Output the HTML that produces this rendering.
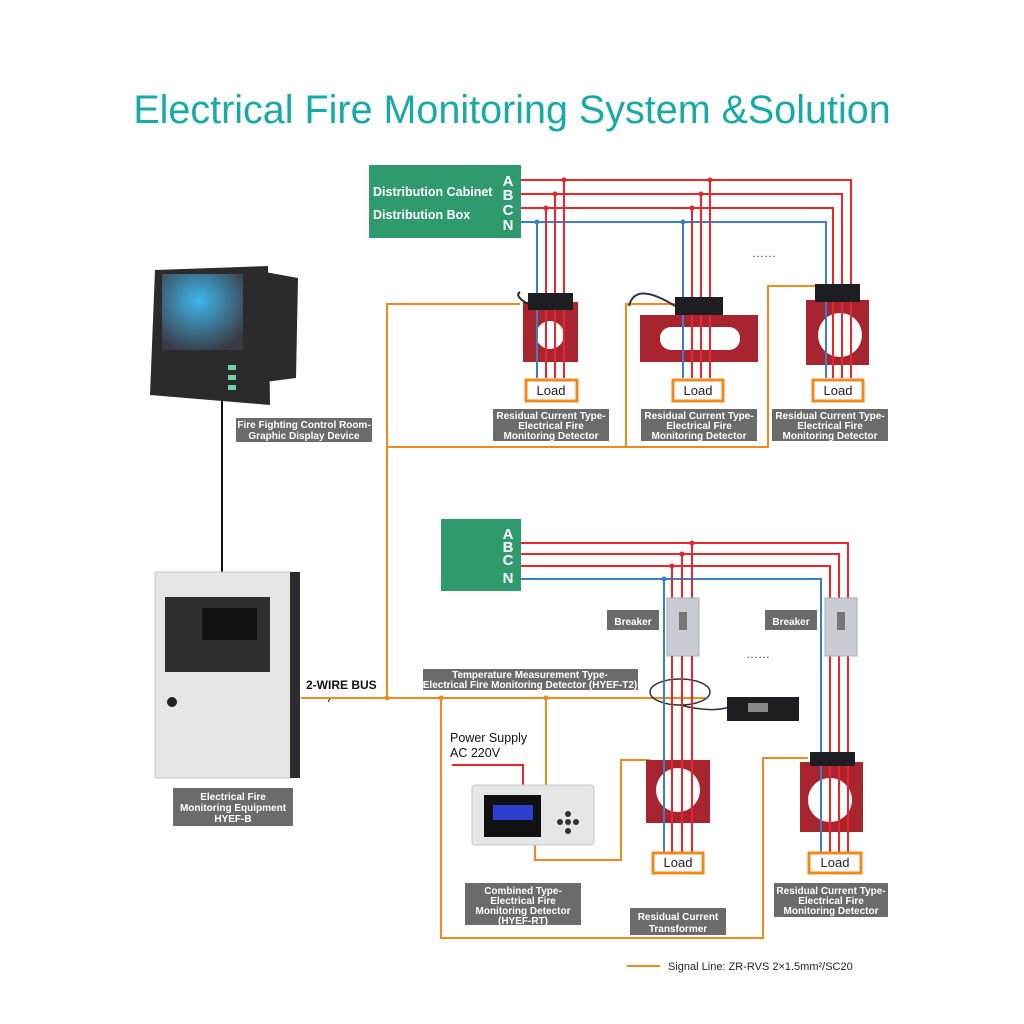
<!DOCTYPE html>
<html><head><meta charset="utf-8"><style>
html,body{margin:0;padding:0;background:#fff}
svg{display:block}
text{font-family:"Liberation Sans",Arial,sans-serif}
.lb{fill:#fff;font-size:10px;font-weight:bold;text-anchor:middle}
.abc{fill:#fff;font-size:15px;font-weight:bold;text-anchor:middle}
</style></head><body>
<svg width="1024" height="1024" viewBox="0 0 1024 1024" xmlns="http://www.w3.org/2000/svg">
<defs><radialGradient id="scr" cx="0.45" cy="0.35" r="0.7"><stop offset="0" stop-color="#3fb6ea"/><stop offset="1" stop-color="#3a3a44"/></radialGradient></defs>
<rect width="1024" height="1024" fill="#fff"/>
<text x="512" y="123" font-size="39.5" fill="#17aaa6" text-anchor="middle">Electrical Fire Monitoring System &amp;Solution</text>

<rect x="369" y="165" width="152" height="73" fill="#2e9a6e"/>
<text x="373" y="196" font-size="12.5" fill="#fff" font-weight="bold">Distribution Cabinet</text>
<text x="373" y="219" font-size="12.5" fill="#fff" font-weight="bold">Distribution Box</text>
<text x="508" y="186" class="abc">A</text>
<text x="508" y="200" class="abc">B</text>
<text x="508" y="215" class="abc">C</text>
<text x="508" y="230" class="abc">N</text>

<g fill="none" stroke-width="2">
<polyline points="521,180 851,180 851,378" stroke="#e8262b"/>
<polyline points="521,194 842,194 842,378" stroke="#e8262b"/>
<polyline points="521,208 833,208 833,378" stroke="#e8262b"/>
<polyline points="521,222 826,222 826,378" stroke="#3b7fc4"/>
<line x1="537" y1="222" x2="537" y2="378" stroke="#3b7fc4"/>
<line x1="546" y1="208" x2="546" y2="378" stroke="#e8262b"/>
<line x1="555" y1="194" x2="555" y2="378" stroke="#e8262b"/>
<line x1="564" y1="180" x2="564" y2="378" stroke="#e8262b"/>
<line x1="683" y1="222" x2="683" y2="378" stroke="#3b7fc4"/>
<line x1="692" y1="208" x2="692" y2="378" stroke="#e8262b"/>
<line x1="701" y1="194" x2="701" y2="378" stroke="#e8262b"/>
<line x1="710" y1="180" x2="710" y2="378" stroke="#e8262b"/>
</g>
<g fill="#e8262b"><circle cx="564" cy="180" r="2.5"/><circle cx="555" cy="194" r="2.5"/><circle cx="546" cy="208" r="2.5"/><circle cx="710" cy="180" r="2.5"/><circle cx="701" cy="194" r="2.5"/><circle cx="692" cy="208" r="2.5"/></g>
<g fill="#3b7fc4"><circle cx="537" cy="222" r="2.5"/><circle cx="683" cy="222" r="2.5"/></g>
<text x="764" y="257" font-size="12" fill="#333" text-anchor="middle">……</text>

<g fill="none" stroke="#f08a1e" stroke-width="2">
<polyline points="520,304 387,304 387,698"/>
<polyline points="387,447 768,447 768,286 815,286"/>
<polyline points="626,447 626,304 675,304"/>
</g>

<rect x="523" y="302" width="55" height="60" fill="#a8242e"/>
<rect x="528" y="293" width="45" height="17" fill="#1e1e22"/>
<circle cx="550" cy="335" r="14" fill="#fff"/>
<path d="M528,304 q-14,-8 -8,-12" stroke="#222" stroke-width="2" fill="none"/>
<rect x="640" y="315" width="118" height="47" fill="#a8242e"/>
<rect x="675" y="297" width="48" height="18" fill="#1e1e22"/>
<rect x="660" y="327" width="80" height="23" rx="11" fill="#fff"/>
<path d="M675,306 q-40,-25 -46,0" stroke="#334" stroke-width="2" fill="none"/>
<rect x="806" y="300" width="63" height="65" fill="#a8242e"/>
<rect x="815" y="284" width="45" height="18" fill="#1e1e22"/>
<circle cx="840" cy="335" r="22" fill="#fff"/>
<g stroke-width="2">
<line x1="537" y1="310" x2="537" y2="378" stroke="#3b7fc4"/><line x1="546" y1="310" x2="546" y2="378" stroke="#e8262b"/><line x1="555" y1="310" x2="555" y2="378" stroke="#e8262b"/><line x1="564" y1="310" x2="564" y2="378" stroke="#e8262b"/>
<line x1="683" y1="315" x2="683" y2="378" stroke="#3b7fc4"/><line x1="692" y1="315" x2="692" y2="378" stroke="#e8262b"/><line x1="701" y1="315" x2="701" y2="378" stroke="#e8262b"/><line x1="710" y1="315" x2="710" y2="378" stroke="#e8262b"/>
<line x1="826" y1="302" x2="826" y2="378" stroke="#3b7fc4"/><line x1="833" y1="302" x2="833" y2="378" stroke="#e8262b"/><line x1="842" y1="302" x2="842" y2="378" stroke="#e8262b"/><line x1="851" y1="302" x2="851" y2="378" stroke="#e8262b"/>
</g>
<g fill="#fff" stroke="#f08a1e" stroke-width="3">
<rect x="526" y="380" width="51" height="21"/><rect x="673" y="380" width="50" height="21"/><rect x="813" y="380" width="50" height="21"/>
</g>
<g font-size="13" fill="#222" text-anchor="middle"><text x="551" y="395">Load</text><text x="698" y="395">Load</text><text x="838" y="395">Load</text></g>
<g fill="#6b6b6b"><rect x="493" y="409" width="116" height="32"/><rect x="641" y="409" width="116" height="32"/><rect x="772" y="409" width="116" height="32"/></g>
<g class="lb"><text x="551" y="419">Residual Current Type-</text><text x="551" y="429">Electrical Fire</text><text x="551" y="439">Monitoring Detector</text>
<text x="699" y="419">Residual Current Type-</text><text x="699" y="429">Electrical Fire</text><text x="699" y="439">Monitoring Detector</text>
<text x="830" y="419">Residual Current Type-</text><text x="830" y="429">Electrical Fire</text><text x="830" y="439">Monitoring Detector</text></g>

<line x1="222" y1="400" x2="222" y2="575" stroke="#111" stroke-width="2"/>
<polygon points="265,272 298,278 296,378 265,382" fill="#2a2a2c"/>
<polygon points="155,270 268,266 270,405 150,395" fill="#2b2b2e"/>
<rect x="162" y="274" width="81" height="76" fill="url(#scr)"/>
<g fill="#6fd3a7"><rect x="228" y="365" width="8" height="5"/><rect x="228" y="375" width="8" height="5"/><rect x="228" y="385" width="8" height="5"/></g>
<rect x="236" y="418" width="136" height="24" fill="#6b6b6b"/>
<g class="lb"><text x="304" y="428">Fire Fighting Control Room-</text><text x="304" y="439">Graphic Display Device</text></g>

<rect x="155" y="572" width="137" height="206" fill="#e6e6e4" stroke="#c8c8c8"/>
<rect x="290" y="572" width="10" height="206" fill="#2b2b2e"/>
<rect x="165" y="597" width="105" height="75" fill="#2e2e30"/>
<rect x="202" y="608" width="55" height="32" fill="#111"/>
<circle cx="172" cy="702" r="5" fill="#222"/>
<rect x="173" y="788" width="120" height="38" fill="#6b6b6b"/>
<g class="lb" font-size="11"><text x="233" y="800">Electrical Fire</text><text x="233" y="811">Monitoring Equipment</text><text x="233" y="822">HYEF-B</text></g>
<text x="306" y="689" font-size="12" fill="#111" font-weight="bold">2-WIRE BUS</text>
<line x1="328" y1="702" x2="331" y2="697" stroke="#111"/>

<rect x="441" y="519" width="80" height="72" fill="#2e9a6e"/>
<text x="508" y="539" class="abc">A</text>
<text x="508" y="552" class="abc">B</text>
<text x="508" y="565" class="abc">C</text>
<text x="508" y="583" class="abc">N</text>
<g fill="none" stroke-width="2">
<polyline points="521,543 848,543 848,852" stroke="#e8262b"/>
<polyline points="521,554 839,554 839,852" stroke="#e8262b"/>
<polyline points="521,566 830,566 830,852" stroke="#e8262b"/>
<polyline points="521,579 821,579 821,852" stroke="#3b7fc4"/>
<line x1="664" y1="579" x2="664" y2="852" stroke="#3b7fc4"/>
<line x1="672" y1="566" x2="672" y2="852" stroke="#e8262b"/>
<line x1="682" y1="554" x2="682" y2="852" stroke="#e8262b"/>
<line x1="692" y1="543" x2="692" y2="852" stroke="#e8262b"/>
</g>
<g fill="#e8262b"><circle cx="692" cy="543" r="2.5"/><circle cx="682" cy="554" r="2.5"/><circle cx="672" cy="566" r="2.5"/></g>
<circle cx="664" cy="579" r="2.5" fill="#3b7fc4"/>
<g fill="#c9ccd3" stroke="#a9adb5"><rect x="667" y="598" width="32" height="58"/><rect x="825" y="598" width="32" height="58"/></g>
<g fill="#777"><rect x="679" y="612" width="8" height="18"/><rect x="837" y="612" width="8" height="18"/></g>
<rect x="607" y="610" width="52" height="20" fill="#6b6b6b"/><rect x="765" y="610" width="52" height="20" fill="#6b6b6b"/>
<g class="lb" font-size="12.5"><text x="633" y="625">Breaker</text><text x="791" y="625">Breaker</text></g>
<text x="758" y="658" font-size="12" fill="#333" text-anchor="middle">……</text>

<g fill="none" stroke="#f08a1e" stroke-width="2">
<polyline points="301,698 705,698"/>
<polyline points="441,698 441,938 763,938 763,758 808,758"/>
<polyline points="546,698 546,785"/>
<polyline points="535,845 535,860 621,860 621,760 650,760"/>
</g>
<g fill="#f08a1e"><circle cx="387" cy="698" r="2.5"/><circle cx="441" cy="698" r="2.5"/><circle cx="546" cy="698" r="2.5"/></g>
<rect x="423" y="669" width="215" height="21" fill="#6b6b6b"/>
<g class="lb" font-size="9.5"><text x="530" y="678">Temperature Measurement Type-</text><text x="530" y="688">Electrical Fire Monitoring Detector (HYEF-T2)</text></g>
<ellipse cx="680" cy="692" rx="30" ry="13" fill="none" stroke="#333" stroke-width="1.5"/>
<path d="M680,705 q30,8 50,2" stroke="#333" stroke-width="1.5" fill="none"/>
<rect x="727" y="697" width="72" height="24" fill="#1e1e22"/>
<rect x="748" y="703" width="20" height="9" fill="#888"/>

<text x="450" y="742" font-size="12.5" fill="#111">Power Supply</text>
<text x="450" y="757" font-size="12.5" fill="#111">AC 220V</text>
<polyline points="452,765 523,765 523,785" fill="none" stroke="#e8262b" stroke-width="2"/>
<rect x="472" y="785" width="122" height="60" rx="3" fill="#e4e6e8" stroke="#c5c8cc"/>
<rect x="484" y="795" width="57" height="42" fill="#111"/>
<rect x="493" y="805" width="40" height="15" fill="#2a3fd0"/>
<g fill="#333"><circle cx="560" cy="822" r="3"/><circle cx="568" cy="822" r="3"/><circle cx="576" cy="822" r="3"/><circle cx="568" cy="814" r="3"/><circle cx="568" cy="831" r="3"/></g>

<rect x="646" y="760" width="64" height="63" fill="#a8242e"/>
<circle cx="678" cy="790" r="22" fill="#fff"/>
<rect x="800" y="762" width="63" height="70" fill="#a8242e"/>
<rect x="810" y="752" width="45" height="14" fill="#1e1e22"/>
<circle cx="830" cy="800" r="22" fill="#fff"/>
<g stroke-width="2">
<line x1="664" y1="656" x2="664" y2="852" stroke="#3b7fc4"/><line x1="672" y1="656" x2="672" y2="852" stroke="#e8262b"/><line x1="682" y1="656" x2="682" y2="852" stroke="#e8262b"/><line x1="692" y1="656" x2="692" y2="852" stroke="#e8262b"/>
<line x1="821" y1="766" x2="821" y2="852" stroke="#3b7fc4"/><line x1="830" y1="766" x2="830" y2="852" stroke="#e8262b"/><line x1="839" y1="766" x2="839" y2="852" stroke="#e8262b"/><line x1="848" y1="766" x2="848" y2="852" stroke="#e8262b"/>
</g>
<g fill="#fff" stroke="#f08a1e" stroke-width="3"><rect x="653" y="853" width="50" height="20"/><rect x="809" y="853" width="52" height="20"/></g>
<g font-size="13" fill="#222" text-anchor="middle"><text x="678" y="867">Load</text><text x="835" y="867">Load</text></g>

<rect x="465" y="883" width="116" height="42" fill="#6b6b6b"/>
<g class="lb"><text x="523" y="894">Combined Type-</text><text x="523" y="904">Electrical Fire</text><text x="523" y="914">Monitoring Detector</text><text x="523" y="924">(HYEF-RT)</text></g>
<rect x="630" y="908" width="96" height="27" fill="#6b6b6b"/>
<g class="lb" font-size="11"><text x="678" y="920">Residual Current</text><text x="678" y="932">Transformer</text></g>
<rect x="774" y="883" width="114" height="34" fill="#6b6b6b"/>
<g class="lb"><text x="831" y="894">Residual Current Type-</text><text x="831" y="904">Electrical Fire</text><text x="831" y="914">Monitoring Detector</text></g>

<line x1="627" y1="966" x2="660" y2="966" stroke="#f08a1e" stroke-width="2"/>
<text x="668" y="970" font-size="11" fill="#222">Signal Line: ZR-RVS 2×1.5mm²/SC20</text>
</svg>
</body></html>
